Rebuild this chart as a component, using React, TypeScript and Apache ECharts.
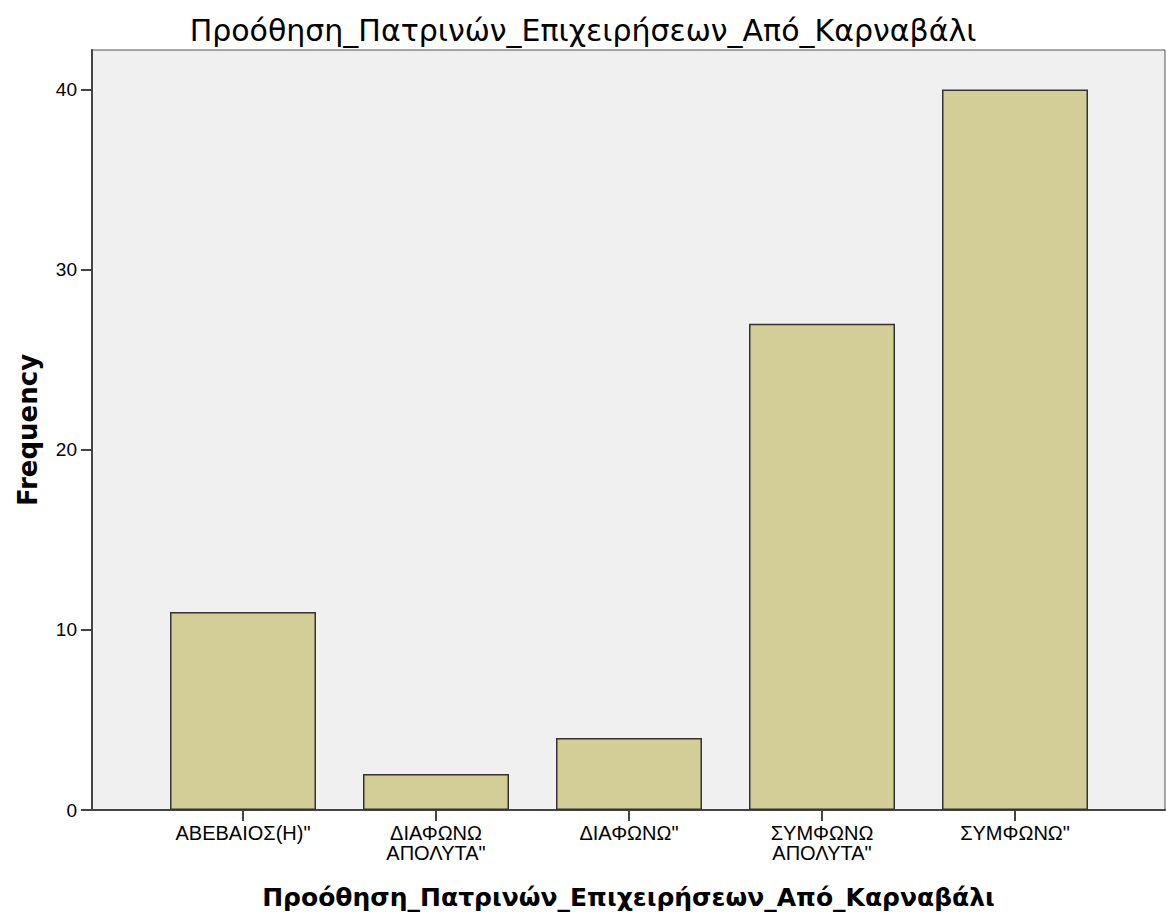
import React, { useEffect, useRef } from "react";
import * as echarts from "echarts";

const titleText = "Προόθηση_Πατρινών_Επιχειρήσεων_Από_Καρναβάλι";
const categories = ["ΑΒΕΒΑΙΟΣ(Η)\"", "ΔΙΑΦΩΝΩ\nΑΠΟΛΥΤΑ\"", "ΔΙΑΦΩΝΩ\"", "ΣΥΜΦΩΝΩ\nΑΠΟΛΥΤΑ\"", "ΣΥΜΦΩΝΩ\""];
const frequencies = [11, 2, 4, 27, 40];
const categoryPositions = [1, 2, 3, 4, 5];
const yTicks = [0, 10, 20, 30, 40];

export default function App() {
  const ref = useRef<HTMLDivElement>(null);
  useEffect(() => {
    if (!ref.current) return;
    const chart = echarts.init(ref.current, null, { renderer: "svg" });
    const font = "Arial, 'Liberation Sans', sans-serif";
    const wide = "'DejaVu Sans', Verdana, sans-serif";
    chart.setOption({
      animation: false,
      backgroundColor: "#ffffff",
      title: {
        text: titleText,
        left: "center",
        top: 10,
        textStyle: { fontFamily: wide, fontSize: 30, fontWeight: "normal", color: "#000" },
      },
      grid: {
        left: 92,
        right: 1,
        top: 50,
        bottom: 113,
        show: true,
        backgroundColor: "#f0f0f0",
        borderColor: "#555",
        borderWidth: 1,
      },
      xAxis: {
        type: "value",
        min: 1 - 151 / 193,
        max: 5 + 150 / 193,
        name: titleText,
        nameLocation: "middle",
        nameGap: 75,
        nameTextStyle: { fontFamily: wide, fontSize: 25, fontWeight: "bold", color: "#000", verticalAlign: "top" },
        axisLine: { show: true, onZero: false, lineStyle: { color: "#444", width: 2 } },
        axisTick: { show: true, length: 11, customValues: categoryPositions, lineStyle: { color: "#444", width: 2 } },
        axisLabel: {
          customValues: categoryPositions,
          formatter: (v: number) => categories[Math.round(v) - 1] ?? "",
          fontFamily: font,
          fontSize: 20,
          color: "#000",
          lineHeight: 20,
          margin: 13,
          verticalAlign: "top",
        },
        splitLine: { show: false },
      },
      yAxis: {
        type: "value",
        min: 0,
        max: 42.2,
        name: "Frequency",
        nameLocation: "middle",
        nameGap: 51,
        nameTextStyle: { fontFamily: wide, fontSize: 26, fontWeight: "bold", color: "#000" },
        axisLine: { show: true, lineStyle: { color: "#444", width: 2 } },
        axisTick: { show: true, length: 11, customValues: yTicks, lineStyle: { color: "#444", width: 2 } },
        axisLabel: {
          customValues: yTicks,
          fontFamily: font,
          fontSize: 19,
          color: "#000",
          margin: 15,
        },
        splitLine: { show: false },
      },
      series: [
        {
          type: "bar",
          barWidth: 146,
          data: categoryPositions.map((p, i) => [p, frequencies[i]]),
          itemStyle: { color: "#d3ce97", borderColor: "#333", borderWidth: 1.5 },
        },
      ],
    });
    return () => chart.dispose();
  }, []);
  return <div ref={ref} style={{ position: "fixed", left: 0, top: 0, width: 1166, height: 923 }} />;
}
